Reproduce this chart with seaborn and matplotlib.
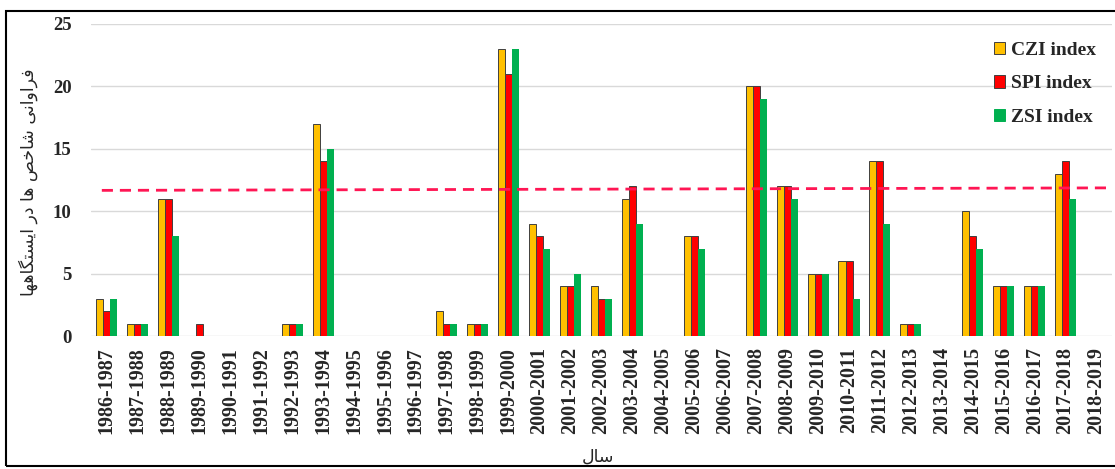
import pandas as pd
import matplotlib
matplotlib.use("Agg")
import matplotlib.pyplot as plt
from matplotlib.patches import Patch, Rectangle
import seaborn as sns

# data
periods = ["1986-1987", "1987-1988", "1988-1989", "1989-1990", "1990-1991",
           "1991-1992", "1992-1993", "1993-1994", "1994-1995", "1995-1996",
           "1996-1997", "1997-1998", "1998-1999", "1999-2000", "2000-2001",
           "2001-2002", "2002-2003", "2003-2004", "2004-2005", "2005-2006",
           "2006-2007", "2007-2008", "2008-2009", "2009-2010", "2010-2011",
           "2011-2012", "2012-2013", "2013-2014", "2014-2015", "2015-2016",
           "2016-2017", "2017-2018", "2018-2019"]
czi = [3, 1, 11, 0, 0, 0, 1, 17, 0, 0, 0, 2, 1, 23, 9, 4, 4, 11, 0, 8, 0,
       20, 12, 5, 6, 14, 1, 0, 10, 4, 4, 13, 0]
spi = [2, 1, 11, 1, 0, 0, 1, 14, 0, 0, 0, 1, 1, 21, 8, 4, 3, 12, 0, 8, 0,
       20, 12, 5, 6, 14, 1, 0, 8, 4, 4, 14, 0]
zsi = [3, 1, 8, 0, 0, 0, 1, 15, 0, 0, 0, 1, 1, 23, 7, 5, 3, 9, 0, 7, 0,
       19, 11, 5, 3, 9, 1, 0, 7, 4, 4, 11, 0]
series_names = ["CZI index", "SPI index", "ZSI index"]
colors = ["#FFC000", "#FF0000", "#00B050"]
threshold_line = [11.65, 11.85]  # dashed reference line, left / right end

# Persian labels, pre-shaped (presentation forms) in visual order
ylabel_logical = ("\uFED3\uFEAE\uFE8D\uFEED\uFE8D\uFEE7\uFEF0 "
                  "\uFEB7\uFE8E\uFEA7\uFEBA "
                  "\uFEEB\uFE8E "
                  "\uFEA9\uFEAD "
                  "\uFE8D\uFEF3\uFEB4\uFE98\uFB95\uFE8E\uFEEB\uFEEC\uFE8E")
ylabel_text = ylabel_logical[::-1]
xlabel_text = "\uFEB3\uFE8E\uFEDD"[::-1]

df = pd.DataFrame({
    "period": periods * 3,
    "index": [n for n in series_names for _ in periods],
    "value": czi + spi + zsi,
})

sns.set_style("white")
plt.rcParams["font.family"] = ["Liberation Serif", "DejaVu Sans"]
plt.rcParams["font.weight"] = "bold"

fig = plt.figure(figsize=(11.15, 4.69), dpi=100)
ax = fig.add_axes([91 / 1115, 133 / 469, 1021 / 1115, 312.5 / 469])

sns.barplot(data=df, x="period", y="value", hue="index", hue_order=series_names,
            palette=colors, width=0.68, gap=0, saturation=1, legend=False, ax=ax)

edges = ["#404040", "#404040", "none"]
for cont, ec in zip(ax.containers, edges):
    for bar in cont:
        if bar.get_height() == 0:
            bar.set_linewidth(0)
        else:
            bar.set_edgecolor(ec)
            bar.set_linewidth(0.7)

xl = (-0.5, len(periods) - 0.5)
ax.plot([-0.15, xl[1]], threshold_line, color="#FF1654", lw=2, ls=(0, (4, 2.5)))
ax.set_xlim(xl)

ax.set_ylim(0, 25)
ax.set_yticks([0, 5, 10, 15, 20, 25])
ax.yaxis.grid(True, color="#D9D9D9", lw=1)
ax.set_axisbelow(True)
for s in ax.spines.values():
    s.set_visible(False)
ax.tick_params(axis="y", length=0, pad=14, labelsize=13.5)
ax.tick_params(axis="x", length=0, pad=8, labelsize=14.5, rotation=90)
for lab in ax.get_xticklabels() + ax.get_yticklabels():
    lab.set_fontweight("bold")
ax.set_xlabel("")
ax.set_ylabel("")

fig.text(28 / 1115, 1 - 182 / 469, ylabel_text, rotation=90, ha="center",
         va="center", fontsize=12.5, family=["DejaVu Sans"], fontweight="normal")
fig.text(598 / 1115, 1 - 457 / 469, xlabel_text, ha="center", va="center",
         fontsize=12.5, family=["DejaVu Sans"], fontweight="normal")

handles = [Patch(facecolor=c, edgecolor=e if e != "none" else c, lw=0.7)
           for c, e in zip(colors, edges)]
ax.legend(handles, series_names, loc="upper left",
          bbox_to_anchor=(986 / 1115, 1 - 34 / 469), bbox_transform=fig.transFigure,
          frameon=False, handlelength=0.6, handleheight=0.6,
          handletextpad=0.3, labelspacing=0.85, borderaxespad=0,
          prop={"weight": "bold", "size": 14})

fig.add_artist(Rectangle((6 / 1115, 3 / 469), 1.0, 455 / 469, transform=fig.transFigure,
                         fill=False, ec="black", lw=1.5))

fig.savefig("out.png", dpi=100)
